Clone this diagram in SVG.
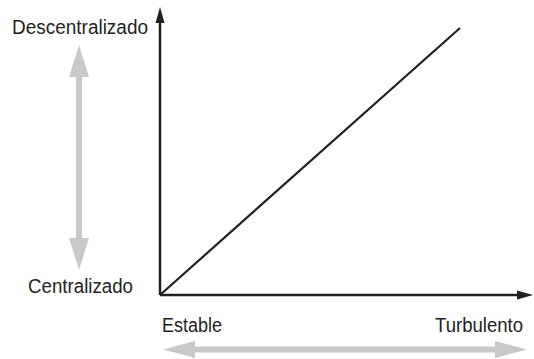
<svg xmlns="http://www.w3.org/2000/svg" width="534" height="359" viewBox="0 0 534 359">
<style>
.t{font-family:"Liberation Sans",Arial,sans-serif;font-size:20px;fill:#231f20}
.ax{stroke:#231f20;stroke-width:2.5;fill:none}
.g{fill:#c8c9cb}
</style>
<rect width="534" height="359" fill="#fff"/>
<g id="connectors">
<line class="ax" x1="160" y1="295" x2="160" y2="20"/>
<polygon points="160,7 155.5,23 164.5,23" fill="#231f20"/>
<line class="ax" x1="160" y1="295" x2="520" y2="295"/>
<polygon points="533,295 517,290.5 517,299.5" fill="#231f20"/>
<line stroke="#231f20" stroke-width="2.2" x1="160" y1="295" x2="460" y2="28"/>
</g>
<g id="vertical-gray-arrow">
<rect class="g" x="76" y="75" width="6" height="165"/>
<polygon class="g" points="79,45 69,77 89,77"/>
<polygon class="g" points="79,270 69,238 89,238"/>
</g>
<g id="horizontal-gray-arrow">
<rect class="g" x="193" y="346.5" width="304" height="6"/>
<polygon class="g" points="163,349.5 195,341 195,358"/>
<polygon class="g" points="527,349.5 495,341 495,358"/>
</g>
<g id="label-descentralizado"><text class="t" x="12" y="34" textLength="136" lengthAdjust="spacingAndGlyphs">Descentralizado</text></g>
<g id="label-centralizado"><text class="t" x="28" y="293" textLength="105" lengthAdjust="spacingAndGlyphs">Centralizado</text></g>
<g id="label-estable"><text class="t" x="162" y="332" textLength="60" lengthAdjust="spacingAndGlyphs">Estable</text></g>
<g id="label-turbulento"><text class="t" x="435" y="332" textLength="88" lengthAdjust="spacingAndGlyphs">Turbulento</text></g>
</svg>
